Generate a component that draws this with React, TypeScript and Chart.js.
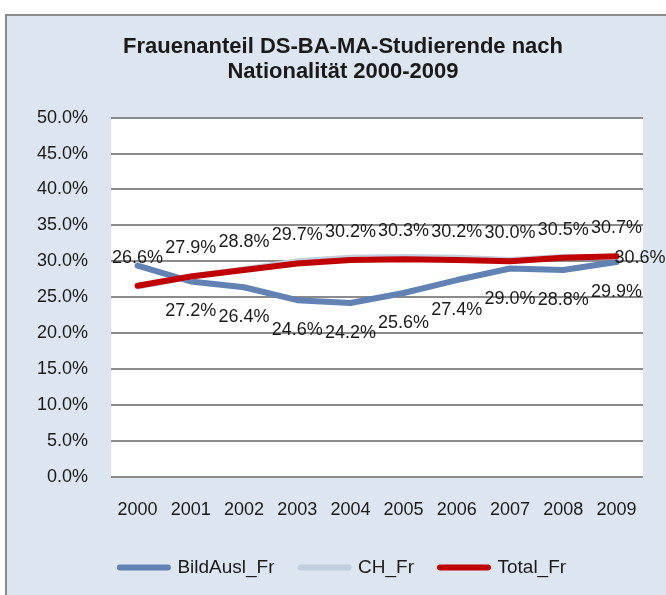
import React, { useEffect, useRef } from 'react';
import { Chart, registerables } from 'chart.js';

Chart.register(...registerables);

const years = ['2000', '2001', '2002', '2003', '2004', '2005', '2006', '2007', '2008', '2009'];
const bildAuslFr = [29.4, 27.2, 26.4, 24.6, 24.2, 25.6, 27.4, 29.0, 28.8, 29.9];
const chFr = [26.5, 27.9, 28.9, 30.0, 30.5, 30.6, 30.5, 30.2, 30.6, 30.6];
const totalFr = [26.6, 27.9, 28.8, 29.7, 30.2, 30.3, 30.2, 30.0, 30.5, 30.7];
const titleLines = ['Frauenanteil DS-BA-MA-Studierende nach', 'Nationalität 2000-2009'];

const FONT = "'Liberation Sans', Arial, sans-serif";
const TEXT = '#1a1a1a';

const fmt = (v: number) => v.toFixed(1) + '%';

const plotBg = {
  id: 'plotBg',
  beforeDraw(chart: any) {
    const { ctx, chartArea } = chart;
    ctx.save();
    ctx.fillStyle = '#ffffff';
    ctx.fillRect(chartArea.left, chartArea.top, chartArea.right - chartArea.left, chartArea.bottom - chartArea.top);
    ctx.restore();
  },
};

const valueLabels = {
  id: 'valueLabels',
  afterDatasetsDraw(chart: any) {
    const ctx = chart.ctx;
    ctx.save();
    ctx.font = `18px ${FONT}`;
    ctx.fillStyle = TEXT;
    ctx.textBaseline = 'middle';
    ctx.textAlign = 'center';
    const mTotal = chart.getDatasetMeta(2);
    mTotal.data.forEach((pt: any, i: number) => {
      ctx.fillText(fmt(totalFr[i]), pt.x, pt.y - 28);
    });
    const mBild = chart.getDatasetMeta(0);
    mBild.data.forEach((pt: any, i: number) => {
      if (i === 0) return;
      ctx.fillText(fmt(bildAuslFr[i]), pt.x, pt.y + 30);
    });
    const mCh = chart.getDatasetMeta(1);
    const li = mCh.data.length - 1;
    const last = mCh.data[li];
    ctx.textAlign = 'left';
    ctx.fillText(fmt(chFr[li]), last.x - 2, last.y + 1);
    ctx.restore();
  },
};

export default function App() {
  const ref = useRef<HTMLCanvasElement>(null);

  useEffect(() => {
    const chart = new Chart(ref.current as HTMLCanvasElement, {
      type: 'line',
      data: {
        labels: years,
        datasets: [
          {
            label: 'BildAusl_Fr',
            data: bildAuslFr,
            borderColor: '#6282b3',
            backgroundColor: '#6282b3',
            borderWidth: 6,
            pointRadius: 0,
            tension: 0,
            borderCapStyle: 'round',
            borderJoinStyle: 'round',
            order: 2,
          },
          {
            label: 'CH_Fr',
            data: chFr,
            borderColor: '#c2cfe1',
            backgroundColor: '#c2cfe1',
            borderWidth: 6,
            pointRadius: 0,
            tension: 0,
            borderCapStyle: 'round',
            borderJoinStyle: 'round',
            order: 1,
          },
          {
            label: 'Total_Fr',
            data: totalFr,
            borderColor: '#c00000',
            backgroundColor: '#c00000',
            borderWidth: 6,
            pointRadius: 0,
            tension: 0,
            borderCapStyle: 'round',
            borderJoinStyle: 'round',
            order: 0,
          },
        ],
      },
      options: {
        responsive: false,
        animation: false,
        devicePixelRatio: 1,
        layout: { padding: { left: 36, right: 36, top: 0, bottom: 19 } },
        plugins: {
          title: {
            display: true,
            text: titleLines,
            color: TEXT,
            font: { family: FONT, size: 22, weight: 'bold', lineHeight: 1.15 },
            padding: { top: 18, bottom: 33 },
          },
          legend: {
            position: 'bottom',
            labels: {
              usePointStyle: true,
              pointStyle: 'line',
              pointStyleWidth: 48,
              padding: 26,
              color: TEXT,
              font: { family: FONT, size: 19 },
              generateLabels: (chart: any) =>
                Chart.defaults.plugins.legend.labels
                  .generateLabels(chart)
                  .map((l: any) => ({ ...l, lineCap: 'round', lineWidth: 6 })),
              sort: (a: any, b: any) => a.datasetIndex - b.datasetIndex,
            },
          },
          tooltip: { enabled: false },
        },
        scales: {
          x: {
            type: 'category',
            offset: true,
            grid: { display: false, drawTicks: false },
            border: { display: false },
            ticks: {
              color: TEXT,
              font: { family: FONT, size: 18 },
              padding: 22,
              maxRotation: 0,
              autoSkip: false,
            },
            afterFit(s: any) {
              s.height = 55;
            },
          },
          y: {
            min: 0,
            max: 50,
            grid: { color: '#8b8b8b', lineWidth: 2, drawTicks: false },
            border: { display: false },
            ticks: {
              stepSize: 5,
              color: TEXT,
              font: { family: FONT, size: 18 },
              padding: 23,
              callback: (v: any) => Number(v).toFixed(1) + '%',
            },
            afterFit(s: any) {
              s.width = 68;
              // let tick labels extend into the layout padding without clipping
              s._computeLabelArea = () => undefined;
            },
          },
        },
      } as any,
      plugins: [plotBg, valueLabels],
    });
    return () => chart.destroy();
  }, []);

  return (
    <div style={{ position: 'fixed', left: 0, top: 0, width: 666, height: 595, overflow: 'hidden', background: '#ffffff' }}>
      <div
        style={{
          position: 'absolute',
          left: 5,
          top: 14,
          width: 672,
          height: 600,
          border: '2px solid #8b8b8b',
          background: '#dde5f0',
        }}
      >
        <canvas ref={ref} width={672} height={590} style={{ display: 'block' }} />
      </div>
    </div>
  );
}
